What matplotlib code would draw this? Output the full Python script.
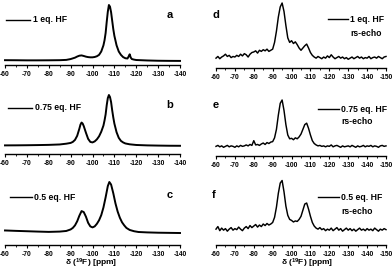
import matplotlib
matplotlib.use('Agg')
import matplotlib.pyplot as plt
from matplotlib.ticker import MultipleLocator

W, H = 392, 269
plt.rcParams['font.family'] = ['Liberation Sans', 'DejaVu Sans']
plt.rcParams['font.weight'] = 'bold'
plt.rcParams['axes.unicode_minus'] = False
plt.rcParams['mathtext.fontset'] = 'custom'
plt.rcParams['mathtext.rm'] = 'Liberation Sans:bold'
plt.rcParams['mathtext.default'] = 'rm'

# ---------------- data ----------------
left_ticks = [-60, -70, -80, -90, -100, -110, -120, -130, -140]
right_ticks = [-60, -70, -80, -90, -100, -110, -120, -130, -140, -150]

ppm_a = [-60, -65, -70, -75, -80, -85, -88, -90, -92, -93, -94, -95, -96, -97, -98, -99, -100,
         -101, -102, -103, -104, -105, -105.5, -106, -106.5, -107, -107.5, -108, -108.5, -109,
         -109.5, -110, -111, -112, -113, -114, -115, -116, -116.5, -117, -117.5, -118, -119,
         -120, -125, -130, -135, -140]
int_a = [0.015, 0.014, 0.012, 0.012, 0.013, 0.015, 0.02, 0.035, 0.06, 0.08, 0.095, 0.10, 0.09,
         0.078, 0.07, 0.066, 0.066, 0.072, 0.085, 0.11, 0.17, 0.28, 0.37, 0.5, 0.7, 0.88, 1.0,
         0.97, 0.87, 0.72, 0.57, 0.45, 0.28, 0.17, 0.11, 0.07, 0.05, 0.045, 0.08, 0.12, 0.06,
         0.035, 0.025, 0.018, 0.01, 0.005, 0.003, 0.002]

ppm_b = [-60, -65, -70, -75, -80, -85, -88, -90, -91, -92, -93, -94, -94.5, -95, -95.5, -96,
         -97, -98, -99, -100, -101, -102, -103, -104, -105, -105.5, -106, -106.5, -107, -107.5,
         -108, -108.5, -109, -109.5, -110, -111, -112, -113, -114, -115, -117, -120, -125,
         -130, -135, -140]
int_b = [0.012, 0.013, 0.015, 0.018, 0.022, 0.03, 0.045, 0.06, 0.08, 0.12, 0.2, 0.34, 0.42,
         0.46, 0.44, 0.39, 0.26, 0.14, 0.08, 0.07, 0.09, 0.13, 0.19, 0.28, 0.4, 0.5, 0.62,
         0.8, 0.94, 1.0, 0.96, 0.86, 0.7, 0.56, 0.44, 0.27, 0.16, 0.1, 0.07, 0.05, 0.033,
         0.02, 0.012, 0.008, 0.005, 0.004]

ppm_c = [-60, -65, -70, -75, -80, -85, -88, -90, -91, -92, -93, -94, -95, -96, -97, -98, -99,
         -100, -101, -102, -103, -104, -105, -106, -107, -107.7, -108.5, -109.5, -110.5,
         -111.5, -112.5, -113.5, -114.5, -115.5, -117, -119, -121, -125, -130, -135, -140]
int_c = [0.05, 0.042, 0.035, 0.028, 0.022, 0.028, 0.04, 0.07, 0.1, 0.15, 0.23, 0.34, 0.43,
         0.41, 0.32, 0.2, 0.13, 0.11, 0.13, 0.18, 0.25, 0.35, 0.5, 0.7, 0.92, 1.0, 0.95, 0.78,
         0.58, 0.42, 0.3, 0.21, 0.15, 0.1, 0.06, 0.035, 0.02, 0.012, 0.006, 0.003, 0.0]

# rs-echo spectra, sampled every 1 ppm from -60 to -150
ppm_echo = list(range(-60, -151, -1))
int_d = [0.02, 0.05, 0.01, 0.04, 0.06, 0.09, 0.05, 0.07, 0.03, 0.05,
         0.04, 0.07, 0.05, 0.09, 0.06, 0.10, 0.08, 0.04, 0.09, 0.12,
         0.13, 0.15, 0.11, 0.16, 0.14, 0.17, 0.15, 0.18, 0.14, 0.16,
         0.18, 0.30, 0.50, 0.75, 0.93, 1.00, 0.85, 0.60, 0.38, 0.30,
         0.33, 0.28, 0.31, 0.26, 0.20, 0.16, 0.20, 0.24, 0.27, 0.20,
         0.12, 0.07, 0.04, 0.02, 0.05, 0.03, 0.01, 0.04, 0.02, 0.06,
         0.03, 0.08, 0.04, 0.01, 0.03, 0.05, 0.02, 0.04, 0.01, 0.03,
         0.00, 0.02, 0.04, 0.01, 0.03, 0.05, 0.02, 0.04, 0.01, 0.03,
         0.02, 0.05, 0.01, 0.03, 0.04, 0.02, 0.05, 0.03, 0.01, 0.04,
         0.05]
int_e = [0.02, 0.04, 0.01, 0.03, 0.00, 0.02, 0.04, 0.01, 0.03, 0.02,
         0.00, 0.03, 0.01, 0.04, 0.02, 0.03, 0.05, 0.03, 0.06, 0.04,
         0.14, 0.05, 0.06, 0.04, 0.07, 0.09, 0.06, 0.10, 0.08, 0.11,
         0.12, 0.20, 0.38, 0.68, 0.93, 1.00, 0.78, 0.48, 0.26, 0.18,
         0.19, 0.16, 0.20, 0.18, 0.22, 0.28, 0.38, 0.48, 0.51, 0.40,
         0.26, 0.14, 0.08, 0.05, 0.03, 0.04, 0.02, 0.03, 0.01, 0.03,
         0.02, 0.05, 0.01, 0.03, 0.04, 0.02, 0.00, 0.03, 0.01, 0.02,
         0.03, 0.01, 0.04, 0.02, 0.00, 0.03, 0.01, 0.02, 0.04, 0.01,
         0.03, 0.02, 0.04, 0.01, 0.03, 0.02, 0.00, 0.03, 0.04, 0.02,
         0.03]
int_f = [0.05, 0.10, 0.02, 0.07, 0.03, 0.06, 0.01, 0.05, 0.08, 0.03,
         0.06, 0.04, 0.09, 0.05, 0.02, 0.07, 0.10, 0.06, 0.12, 0.08,
         0.11, 0.14, 0.09, 0.13, 0.10, 0.15, 0.12, 0.16, 0.13, 0.15,
         0.18, 0.28, 0.48, 0.75, 0.95, 1.00, 0.78, 0.50, 0.32, 0.24,
         0.22, 0.19, 0.21, 0.20, 0.24, 0.30, 0.42, 0.54, 0.56, 0.44,
         0.30, 0.18, 0.11, 0.07, 0.05, 0.08, 0.04, 0.06, 0.02, 0.05,
         0.03, 0.07, 0.02, 0.05, 0.08, 0.03, 0.06, 0.01, 0.04, 0.07,
         0.03, 0.06, 0.02, 0.05, 0.01, 0.04, 0.07, 0.03, 0.05, 0.02,
         0.06, 0.03, 0.05, 0.02, 0.07, 0.04, 0.01, 0.05, 0.03, 0.06,
         0.04]

letters = ['a', 'b', 'c', 'd', 'e', 'f']
labels = ['1 eq. HF', '0.75 eq. HF', '0.5 eq. HF', '1 eq. HF', '0.75 eq. HF', '0.5 eq. HF']
echo_label = 'rs-echo'
xlabel = r'δ ($^{19}$F) [ppm]'

# ---------------- layout (pixels) ----------------
layout = [
    dict(ax=(5, 180, 65, 5, -0.071), let=(170, 15), leg=(6, 30, 20), tx=33, echo=None),
    dict(ax=(5, 180, 154, 95, -0.157), let=(170, 105), leg=(8, 32, 108), tx=35, echo=None),
    dict(ax=(5, 180, 245, 182, -0.235), let=(170, 195), leg=(10, 32, 197), tx=34, echo=None),
    dict(ax=(216, 386, 68, 3, -0.155), let=(216, 15), leg=(328, 348, 19), tx=350, echo=33),
    dict(ax=(216, 386, 156, 100, -0.184), let=(216, 105), leg=(318, 339, 109), tx=341, echo=122),
    dict(ax=(216, 386, 245, 180.5, -0.26), let=(214, 195), leg=(318, 339, 197), tx=341, echo=211),
]
xlabel_pos = [(91, 263), (307, 263)]

series = [(ppm_a, int_a), (ppm_b, int_b), (ppm_c, int_c),
          (ppm_echo, int_d), (ppm_echo, int_e), (ppm_echo, int_f)]

fig = plt.figure(figsize=(W / 100, H / 100), dpi=100)


def fx(x):
    return x / W


def fy(y):
    return 1 - y / H


for i, ((xs, ys), lay) in enumerate(zip(series, layout)):
    x0, x1, ysp, ypk, lo = lay['ax']
    ax = fig.add_axes([fx(x0), fy(ysp), (x1 - x0) / W, (ysp - ypk) / H])
    right = i >= 3
    ax.plot(xs, ys, color='black', lw=1.05 if right else 1.4, clip_on=False)
    ticks = right_ticks if right else left_ticks
    ax.set_xlim(ticks[0], ticks[-1])
    ax.set_ylim(lo, 1)
    ax.patch.set_alpha(0)
    for s in ('left', 'right', 'top'):
        ax.spines[s].set_visible(False)
    ax.spines['bottom'].set_linewidth(1.0)
    ax.set_yticks([])
    ax.set_xticks(ticks)
    ax.set_xticklabels([str(t) for t in ticks])
    ax.xaxis.set_minor_locator(MultipleLocator(5))
    ax.tick_params(axis='x', which='major', direction='out', length=2.5, width=0.8,
                   labelsize=4.8, pad=1.5)
    ax.tick_params(axis='x', which='minor', direction='out', length=1.5, width=0.6)
    lx0, lx1, ly = lay['leg']
    fig.add_artist(plt.Line2D([fx(lx0), fx(lx1)], [fy(ly), fy(ly)], color='black', lw=1.0))
    fig.text(fx(lay['tx']), fy(ly), labels[i], fontsize=6.2, fontweight='bold',
             ha='left', va='center')
    if lay['echo'] is not None:
        fig.text(fx(lay['tx']), fy(lay['echo']), echo_label, fontsize=6.2,
                 fontweight='bold', ha='left', va='center')
    lxp, lyp = lay['let']
    fig.text(fx(lxp), fy(lyp), letters[i], fontsize=8, fontweight='bold',
             ha='center', va='center')

for (xp, yp) in xlabel_pos:
    fig.text(fx(xp), fy(yp), xlabel, fontsize=6.0, fontweight='bold',
             ha='center', va='center')

fig.savefig('out.png', dpi=100)
